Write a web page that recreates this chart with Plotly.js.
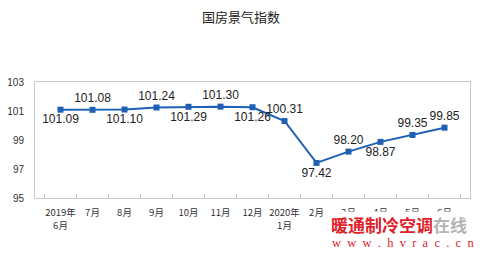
<!DOCTYPE html>
<html><head><meta charset="utf-8">
<script src="https://cdn.plot.ly/plotly-3.0.1.min.js"></script>
<style>html,body{margin:0;padding:0;background:#fff}</style>
</head><body><div id="c" style="width:482px;height:254px"></div>
<script>
var months = ["2019年<br>6月","7月","8月","9月","10月","11月","12月","2020年<br>1月","2月","3月","4月","5月","6月"];
var indexValues = [101.09,101.08,101.10,101.24,101.29,101.30,101.26,100.31,97.42,98.20,98.87,99.35,99.85];
var labelPos = ["bottom center","top center","bottom center","top center","bottom center","top center","bottom center","top center","bottom center","top center","bottom center","top center","top center"];
var yTicks = [95,97,99,101,103];

var W = 482, H = 254, L = 35, R = 12, T = 82, B = 56;
function px(x){return (x-L)/(W-L-R);}
function py(y){return (H-B-y)/(H-T-B);}

var trace = {
  x: months, y: indexValues, type: 'scatter', mode: 'lines+markers+text',
  line: {color: '#1f5fb4', width: 2},
  marker: {symbol: 'square', size: 6, color: '#1f5fb4'},
  text: indexValues.map(function(v){return v.toFixed(2);}),
  textposition: labelPos,
  textfont: {family: 'Liberation Sans, Arial, sans-serif', size: 12, color: '#222'},
  cliponaxis: false, hoverinfo: 'none'
};
var layout = {
  width: W, height: H, margin: {l: L, r: R, t: T, b: B},
  paper_bgcolor: '#fff', plot_bgcolor: '#fff', showlegend: false,
  title: {text: '国房景气指数', x: 0.5, xanchor: 'center', y: 1-17/H, yanchor: 'middle',
          font: {family: 'Noto Sans CJK SC', size: 13, color: '#222'}},
  xaxis: {type: 'category', showgrid: false, showline: true, mirror: true, linecolor: '#c8c8c8', linewidth: 1,
          ticks: 'inside', tickson: 'boundaries', ticklen: 4, tickcolor: '#c8c8c8',
          ticklabelstandoff: 6,
          tickfont: {family: 'Noto Sans CJK SC', size: 9.5, color: '#333'}, tickangle: 0,
          fixedrange: true},
  yaxis: {range: [95, 103], tickvals: yTicks, showgrid: false, showline: true, mirror: true,
          linecolor: '#c8c8c8', linewidth: 1, ticks: '', zeroline: false, ticklabelstandoff: 8,
          tickfont: {family: 'Liberation Sans, Arial, sans-serif', size: 10, color: '#333'}},
  annotations: [
    {xref: 'paper', yref: 'paper', x: px(330), y: py(224), xanchor: 'left', yanchor: 'middle', showarrow: false,
     bgcolor: '#ffffff', borderpad: 0,
     text: '<b><span style="color:#e0202a">暖通制冷空调</span><span style="color:#b5b5b5">在线</span></b>',
     font: {family: 'Noto Sans CJK SC', size: 17}},
    {xref: 'paper', yref: 'paper', x: px(403), y: py(243), xanchor: 'center', yanchor: 'middle', showarrow: false,
     text: 'w\u00a0 w\u00a0 w\u00a0 .\u00a0 h\u00a0 v\u00a0 r\u00a0 a\u00a0 c\u00a0 .\u00a0 c\u00a0 n',
     font: {family: 'Liberation Serif, serif', size: 12.5, color: '#e0202a'}}
  ]
};
Plotly.newPlot('c', [trace], layout, {staticPlot: true});
</script></body></html>
